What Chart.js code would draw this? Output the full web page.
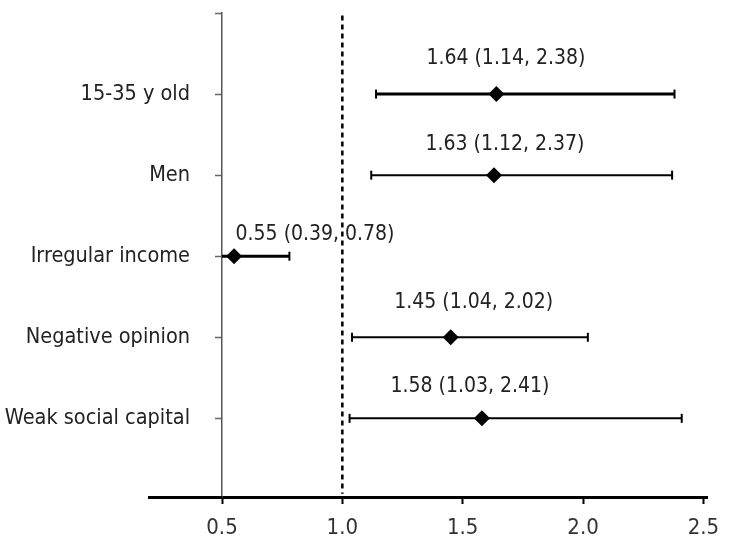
<!DOCTYPE html>
<html>
<head>
<meta charset="utf-8">
<script src="https://cdn.jsdelivr.net/npm/chart.js@4/dist/chart.umd.min.js"></script>
<style>
  html, body { margin: 0; padding: 0; background: #fff; }
</style>
</head>
<body>
<canvas id="forest" width="731" height="546"></canvas>
<script>
// Odds ratios with 95% CI
const categories = ['15-35 y old', 'Men', 'Irregular income', 'Negative opinion', 'Weak social capital'];
const oddsRatio = [1.64, 1.63, 0.55, 1.45, 1.58];
const ciLow = [1.14, 1.12, 0.39, 1.04, 1.03];
const ciHigh = [2.38, 2.37, 0.78, 2.02, 2.41];
const xTicks = [0.5, 1.0, 1.5, 2.0, 2.5];
const refValue = 1.0;

const FONT = '"Liberation Sans Narrow", "Arial Narrow", "DejaVu Sans Condensed", sans-serif';
const lineWidths = [3, 2, 3, 2, 2];

// text "OR (lo, hi)" above each bar
const ciLabels = {
  id: 'ciLabels',
  afterDatasetsDraw(chart, args, opts) {
    const { ctx, scales: { x, y } } = chart;
    ctx.save();
    ctx.font = `${opts.size}px ${FONT}`;
    ctx.fillStyle = opts.color;
    ctx.textAlign = 'center';
    ctx.textBaseline = 'middle';
    oddsRatio.forEach((v, i) => {
      const [dx, dy] = opts.offsets[i];
      const txt = `${v.toFixed(2)} (${ciLow[i].toFixed(2)}, ${ciHigh[i].toFixed(2)})`;
      ctx.fillText(txt, x.getPixelForValue(v) + dx, y.getPixelForValue(i) + dy);
    });
    ctx.restore();
  }
};

// the x axis line in the original runs on past the y axis to the left
const axisStub = {
  id: 'axisStub',
  afterDraw(chart, args, opts) {
    const { ctx, chartArea } = chart;
    ctx.save();
    ctx.strokeStyle = '#000';
    ctx.lineWidth = 3;
    ctx.beginPath();
    ctx.moveTo(chartArea.left - opts.extend, chartArea.bottom + 0.5);
    ctx.lineTo(chartArea.left, chartArea.bottom + 0.5);
    ctx.stroke();
    ctx.restore();
  }
};

const ciDatasets = categories.map((c, i) => ({
  type: 'line',
  label: c,
  data: [{ x: ciLow[i], y: i }, { x: ciHigh[i], y: i }],
  borderColor: '#000',
  borderWidth: lineWidths[i],
  pointStyle: 'line',
  rotation: 90,
  pointRadius: 4.5,
  pointBorderWidth: 2,
  pointBorderColor: '#000',
  showLine: true
}));

new Chart(document.getElementById('forest'), {
  type: 'scatter',
  data: {
    datasets: [
      {
        type: 'line',
        label: 'ref',
        data: [{ x: refValue, y: -0.97 }, { x: refValue, y: 4.93 }],
        borderColor: '#000',
        borderWidth: 2.5,
        borderDash: [5, 4],
        pointRadius: 0,
        showLine: true
      },
      ...ciDatasets,
      {
        label: 'OR',
        data: oddsRatio.map((v, i) => ({ x: v, y: i })),
        pointStyle: 'rectRot',
        pointRadius: 8,
        backgroundColor: '#000',
        borderColor: '#000',
        borderWidth: 0
      }
    ]
  },
  options: {
    responsive: false,
    animation: false,
    devicePixelRatio: 1,
    layout: { padding: { left: 0, right: 24, top: 13, bottom: 0 } },
    plugins: {
      legend: { display: false },
      tooltip: { enabled: false },
      axisStub: { extend: 74 },
      ciLabels: {
        size: 21,
        color: '#222',
        offsets: [[9.5, -36], [11, -31], [81, -22], [23, -35], [-12, -32]]
      }
    },
    scales: {
      x: {
        type: 'linear',
        position: 'bottom',
        min: 0.5,
        max: 2.515,
        afterBuildTicks: s => { s.ticks = xTicks.map(v => ({ value: v })); },
        afterFit: s => { s.height = 49; },
        ticks: {
          callback: v => Number(v).toFixed(1),
          font: { family: FONT, size: 22 },
          color: '#333',
          padding: 11,
          maxRotation: 0
        },
        grid: { drawOnChartArea: false, drawTicks: true, tickLength: 7, tickWidth: 2, tickColor: '#000' },
        border: { display: true, color: '#000', width: 3 }
      },
      y: {
        type: 'linear',
        position: 'left',
        min: -1,
        max: 4.97,
        reverse: true,
        afterBuildTicks: s => { s.ticks = [-1, 0, 1, 2, 3, 4].map(v => ({ value: v })); },
        afterFit: s => { s.width = 222; s.paddingTop = 0; s.paddingBottom = 0; },
        ticks: {
          callback: v => categories[v] ?? '',
          font: { family: FONT, size: 21.5 },
          color: '#222',
          padding: 25
        },
        grid: { drawOnChartArea: false, drawTicks: true, tickLength: 7, tickWidth: 1.5, tickColor: '#666' },
        border: { display: true, color: '#555', width: 1.5 }
      }
    }
  },
  plugins: [ciLabels, axisStub]
});
</script>
</body>
</html>
